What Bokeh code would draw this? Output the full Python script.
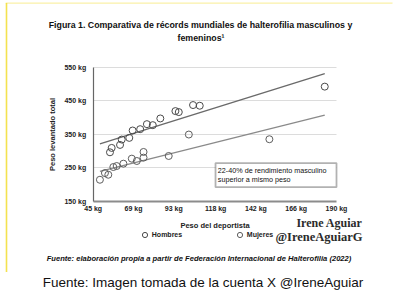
from bokeh.plotting import figure
from bokeh.models import (Range1d, FixedTicker, PrintfTickFormatter, Label,
                          BoxAnnotation, Legend, LegendItem)
from bokeh.embed import file_html
from bokeh.resources import INLINE

# ---- data ----
men_bw = [55, 56, 61, 62, 66.5, 68.5, 73, 77, 80.5, 85, 94, 96, 104.5, 108.5, 183]
men_total = [296, 309, 318, 334, 339, 361, 365, 380, 377, 397, 419, 416, 437, 435, 492]
women_bw = [49, 52, 54, 57, 59, 63, 68, 71, 75, 75, 90, 102, 150]
women_total = [214, 234, 229, 252, 255, 262, 277, 270, 297, 280, 285, 349, 335]
trend_bw = [49, 183]
trend_men = [321, 531]
trend_women = [239, 407]
x_ticks = [45, 69, 93, 118, 142, 166, 190]
y_ticks = [150, 250, 350, 450, 550]

SANS = "Liberation Sans"
SERIF = "Liberation Serif"
YELLOW = "#f3df3c"

# The frame covers the whole canvas; axes are pinned inside it with fixed_location,
# so that titles, notes and legends drawn around the chart are not clipped.
p = figure(width=394, height=293, x_range=Range1d(-10.246, 224.566),
           y_range=Range1d(-125.52, 749.1),
           output_backend="svg", toolbar_location=None,
           min_border=0, min_border_left=0, min_border_right=0,
           min_border_top=0, min_border_bottom=0)
p.outline_line_color = None
p.background_fill_color = "white"
p.border_fill_color = "white"
# page-pixel coordinates for the surrounding texts
p.extra_x_ranges = {"px": Range1d(0, 394)}
p.extra_y_ranges = {"px": Range1d(293, 0)}

p.xaxis.fixed_location = 150
p.yaxis.fixed_location = 45
p.xaxis.bounds = (x_ticks[0], x_ticks[-1])
p.yaxis.bounds = (y_ticks[0], y_ticks[-1])
p.xaxis.ticker = FixedTicker(ticks=x_ticks)
p.yaxis.ticker = FixedTicker(ticks=y_ticks)
p.xaxis.formatter = PrintfTickFormatter(format="%d kg")
p.yaxis.formatter = PrintfTickFormatter(format="%d kg")
for ax in (p.xaxis, p.yaxis):
    ax.major_tick_line_color = None
    ax.minor_tick_line_color = None
    ax.major_tick_out = 0
    ax.major_tick_in = 0
    ax.major_label_text_font = SANS
    ax.major_label_text_font_style = "bold"
    ax.major_label_text_font_size = "7px"
    ax.major_label_text_color = "#222222"
    ax.axis_label_text_font = SANS
    ax.axis_label_text_font_style = "bold"
    ax.axis_label_text_font_size = "7.5px"
    ax.axis_label_text_color = "#222222"
p.xaxis.axis_label = "Peso del deportista"
p.yaxis.axis_label = "Peso levantado total"
p.xaxis.major_label_standoff = 4
p.yaxis.major_label_standoff = 7
p.xaxis.axis_label_standoff = 5
p.yaxis.axis_label_standoff = 5
p.xaxis.axis_line_color = "#8c8c8c"
p.xaxis.axis_line_width = 2
p.yaxis.axis_line_color = "#666666"
p.yaxis.axis_line_width = 1.2

p.xgrid.grid_line_color = None
p.ygrid.ticker = FixedTicker(ticks=y_ticks[1:])
p.ygrid.cross_bounds = (x_ticks[0], x_ticks[-1])
p.ygrid.grid_line_color = "#dcdcdc"
p.ygrid.grid_line_width = 1

# trend lines
p.line(trend_bw, trend_men, line_color="#6a6a6a", line_width=1.4)
p.line(trend_bw, trend_women, line_color="#8a8a8a", line_width=1.4)

# points
r_men = p.scatter(men_bw, men_total, marker="circle", size=7, fill_color=None,
                  line_color="#4a4a4a", line_width=1)
r_women = p.scatter(women_bw, women_total, marker="circle", size=7, fill_color=None,
                    line_color="#5e5e5e", line_width=1)


def lab(x, y, text, size, style="normal", font=SANS, align="center", color="#111111",
        px=True):
    kw = dict(x_range_name="px", y_range_name="px") if px else {}
    p.add_layout(Label(x=x, y=y, text=text, text_font=font, text_font_size=size,
                       text_font_style=style, text_align=align,
                       text_baseline="middle", text_color=color, **kw))


# annotation box (data coordinates)
p.add_layout(BoxAnnotation(left=117.9, right=190, bottom=192, top=263.8,
                           fill_color="white", fill_alpha=1, line_color="black",
                           line_width=1.8))
lab(119.3, 242.8, "22-40% de rendimiento masculino", "7.2px", align="left", px=False)
lab(119.3, 215.9, "superior a mismo peso", "7.2px", align="left", px=False)

# title
lab(200, 24.5, "Figura 1. Comparativa de récords mundiales de halterofilia masculinos y",
    "8.8px", "bold")
lab(200.5, 37.5, "femeninos¹", "8.8px", "bold")

# legend (one per series, placed under the axis title)
for r, name, lx in ((r_men, "Hombres", 137.8), (r_women, "Mujeres", 232.8)):
    p.add_layout(Legend(items=[LegendItem(label=name, renderers=[r])], location=(lx, 52.2),
                        orientation="horizontal", padding=0, margin=0, spacing=0,
                        glyph_width=13, glyph_height=13, label_height=8, label_standoff=1,
                        label_text_font=SANS, label_text_font_style="bold",
                        label_text_font_size="7px", label_text_color="#222222",
                        label_text_baseline="middle",
                        border_line_color=None, background_fill_alpha=0))

# watermark and sources
lab(362, 222.5, "Irene Aguiar", "12px", "bold", SERIF, "right", "#2b2b2b")
lab(362, 236, "@IreneAguiarG", "12.5px", "bold", SERIF, "right", "#2b2b2b")
lab(198.5, 258.3,
    "Fuente: elaboración propia a partir de Federación Internacional de Halterofilia (2022)",
    "7.6px", "bold italic")
lab(202.5, 282, "Fuente: Imagen tomada de la cuenta X @IreneAguiar", "13.5px")

# yellow edges of the photographed page
p.add_layout(BoxAnnotation(left=5.2, right=6.8, top=2.5, bottom=271.5, x_range_name="px",
                           y_range_name="px", fill_color=YELLOW, fill_alpha=0.9,
                           line_color=None))
p.add_layout(BoxAnnotation(left=5.2, right=392, top=2, bottom=3.2, x_range_name="px",
                           y_range_name="px", fill_color=YELLOW, fill_alpha=0.45,
                           line_color=None))

open("out.html", "w").write(file_html(p, INLINE))
